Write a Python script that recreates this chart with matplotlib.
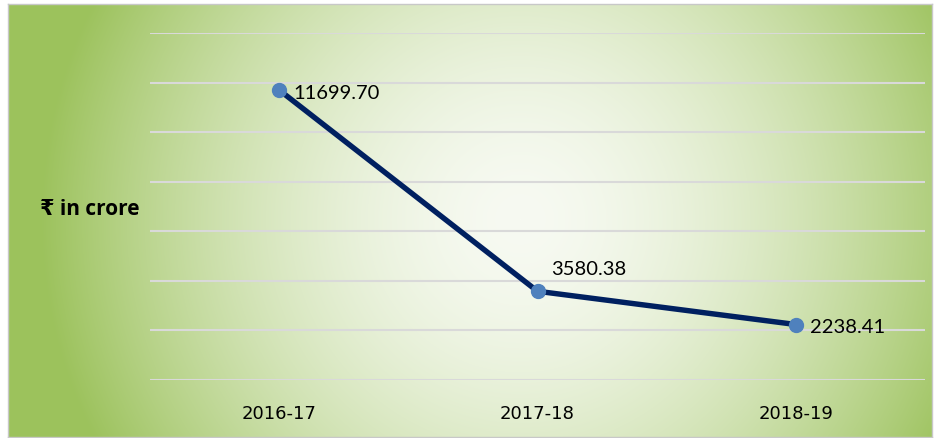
import numpy as np
import matplotlib
matplotlib.use("Agg")
import matplotlib.pyplot as plt
from matplotlib.colors import to_rgb

years = ["2016-17", "2017-18", "2018-19"]
values = [11699.70, 3580.38, 2238.41]
labels = ["11699.70", "3580.38", "2238.41"]
ylabel = "₹ in crore"

W, H = 940, 439
fig = plt.figure(figsize=(W / 100, H / 100), dpi=100)
fig.patch.set_facecolor("white")

# background gradient panel
bx0, by0, bx1, by1 = 8, 5, 932, 438
bg = fig.add_axes([bx0 / W, 1 - by1 / H, (bx1 - bx0) / W, (by1 - by0) / H])
nx, ny = bx1 - bx0, by1 - by0
xx, yy = np.meshgrid(np.arange(nx) + bx0, np.arange(ny) + by0)
cx, cy, R = 520, 220, 480
d = np.clip(np.hypot(xx - cx, yy - cy) / R, 0, 1)
t = d ** 1.7
c0 = np.array(to_rgb("#F7FAF2"))
c1 = np.array(to_rgb("#9CC25C"))
img = c0[None, None, :] * (1 - t[..., None]) + c1[None, None, :] * t[..., None]
bg.imshow(img, aspect="auto", extent=[0, 1, 0, 1], origin="upper")
bg.set_xticks([]); bg.set_yticks([])
for s in bg.spines.values():
    s.set_color("#C8C8C8"); s.set_linewidth(1)

# plot axes
L, Rr, T, B = 150, 925, 34, 381
ax = fig.add_axes([L / W, 1 - B / H, (Rr - L) / W, (B - T) / H])
ax.patch.set_alpha(0)
x = np.arange(len(years))
ax.set_xlim(-0.5, 2.5)
ax.set_ylim(0, 14000)
ax.set_yticks(np.arange(0, 14001, 2000))
ax.yaxis.grid(True, color="#D9D9D9", linewidth=1.5)
ax.set_axisbelow(True)
ax.tick_params(axis="y", length=0, labelleft=False)
ax.tick_params(axis="x", length=0, pad=17)
ax.set_xticks(x)
ax.set_xticklabels(years, fontsize=13, family=["DejaVu Sans"], color="#000000")
for s in ax.spines.values():
    s.set_visible(False)

ax.plot(x, values, color="#002060", linewidth=3.9, zorder=3, solid_capstyle="round")
ax.plot(x, values, "o", color="#4F81BD", markersize=10, zorder=4)

offsets = [(10, -1.5, "left", "center"), (10, 10, "left", "bottom"), (10, -1.5, "left", "center")]
for xi, v, lab, (dx, dy, ha, va) in zip(x, values, labels, offsets):
    ax.annotate(lab, (xi, v), xytext=(dx, dy), textcoords="offset points",
                ha=ha, va=va, fontsize=14.5, family=["Lato", "DejaVu Sans"], color="#000000", zorder=5)

fig.text(90 / W, 1 - 210 / H, ylabel, ha="center", va="center", fontsize=15,
         fontweight="bold", family=["Open Sans", "DejaVu Sans"], color="#000000")

fig.savefig("out.png", dpi=100)
